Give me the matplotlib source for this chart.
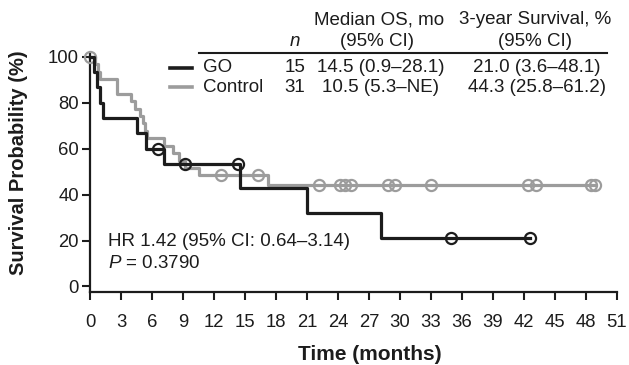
import matplotlib
matplotlib.use('Agg')
import matplotlib.pyplot as plt
from matplotlib.lines import Line2D

plt.rcParams['font.family'] = ['Liberation Sans', 'DejaVu Sans']
plt.rcParams['mathtext.fontset'] = 'custom'
plt.rcParams['mathtext.it'] = 'Liberation Sans:italic'
plt.rcParams['mathtext.rm'] = 'Liberation Sans'

# ---- data ----
go_t = [0, 0.4, 0.7, 1.0, 1.3, 4.5, 5.4, 7.2, 14.5, 21.0, 28.2]
go_s = [100, 93.3, 86.7, 80.0, 73.3, 66.7, 60.0, 53.3, 42.7, 32.0, 21.3]
go_end = 42.6
go_cens_t = [6.6, 9.2, 14.3, 34.9, 42.6]
go_cens_s = [60.0, 53.3, 53.3, 21.3, 21.3]

ctrl_t = [0, 0.5, 0.75, 1.0, 2.6, 4.0, 4.35, 4.8, 5.1, 5.3, 5.5, 7.2, 8.0, 8.6, 9.2, 10.5, 17.2]
ctrl_s = [100, 96.8, 93.5, 90.3, 83.9, 80.6, 77.4, 74.2, 71.0, 67.7, 64.5, 61.3, 58.1, 54.8, 51.6, 48.4, 44.3]
ctrl_end = 48.9
ctrl_cens_t = [0, 12.7, 16.3, 22.2, 24.2, 24.7, 25.3, 28.8, 29.5, 33.0, 42.4, 43.2, 48.5, 48.9]
ctrl_cens_s = [100, 48.4, 48.4, 44.3, 44.3, 44.3, 44.3, 44.3, 44.3, 44.3, 44.3, 44.3, 44.3, 44.3]

groups = ['GO', 'Control']
n_vals = ['15', '31']
median_os = ['14.5 (0.9\u201328.1)', '10.5 (5.3\u2013NE)']
surv3 = ['21.0 (3.6\u201348.1)', '44.3 (25.8\u201361.2)']
hr_text = 'HR 1.42 (95% CI: 0.64\u20133.14)'
p_text = '$P$ = 0.3790'

x_ticks = list(range(0, 52, 3))
y_ticks = [0, 20, 40, 60, 80, 100]

BLACK = '#1c1c1c'
GRAY = '#9c9c9c'
FS = 13.5

W, H = 629, 365
fig = plt.figure(figsize=(W / 100, H / 100), dpi=100)
ax = fig.add_axes([90 / W, 73 / H, 527 / W, (292 - 54) / H])

ax.step(ctrl_t + [ctrl_end], ctrl_s + [ctrl_s[-1]], where='post', color=GRAY, lw=2.3, zorder=2, clip_on=False)
ax.plot(ctrl_cens_t, ctrl_cens_s, 'o', ms=8, mfc='none', mec=GRAY, mew=1.6, zorder=3, clip_on=False)
ax.step(go_t + [go_end], go_s + [go_s[-1]], where='post', color=BLACK, lw=2.3, zorder=4, clip_on=False)
ax.plot(go_cens_t, go_cens_s, 'o', ms=8, mfc='none', mec=BLACK, mew=1.6, zorder=5, clip_on=False)

ax.set_xlim(0, 51)
ax.set_ylim(-2.4, 101.2)
ax.set_xticks(x_ticks)
ax.set_yticks(y_ticks)
for s in ['top', 'right']:
    ax.spines[s].set_visible(False)
for s in ['left', 'bottom']:
    ax.spines[s].set_linewidth(1.6)
    ax.spines[s].set_color(BLACK)
ax.tick_params(axis='both', direction='out', length=6, width=1.5, labelsize=13.3, colors=BLACK)
ax.tick_params(axis='x', pad=10)
ax.tick_params(axis='y', pad=2)

def fx(px):
    return px / W

def fy(py):
    return 1 - py / H

fig.text(fx(19), fy(163), 'Survival Probability (%)', rotation=90, ha='center', va='center',
         fontsize=14.5, fontweight='bold', color=BLACK)
fig.text(fx(370), fy(354), 'Time (months)', ha='center', va='center',
         fontsize=15, fontweight='bold', color=BLACK)

fig.text(fx(108), fy(241), hr_text, ha='left', va='center', fontsize=FS, color=BLACK)
fig.text(fx(108), fy(264), p_text, ha='left', va='center', fontsize=FS, color=BLACK)

# table header
fig.text(fx(379), fy(20), 'Median OS, mo', ha='center', va='center', fontsize=FS, color=BLACK)
fig.text(fx(535), fy(20), '3-year Survival, %', ha='center', va='center', fontsize=FS, color=BLACK)
fig.text(fx(295), fy(41), '$n$', ha='center', va='center', fontsize=FS, color=BLACK)
fig.text(fx(377), fy(41), '(95% CI)', ha='center', va='center', fontsize=FS, color=BLACK)
fig.text(fx(535), fy(41), '(95% CI)', ha='center', va='center', fontsize=FS, color=BLACK)
fig.add_artist(Line2D([fx(199), fx(607)], [fy(53), fy(53)], color=BLACK, lw=1.5))

rows_y = [68, 87]
colors = [BLACK, GRAY]
for i in range(2):
    y = rows_y[i]
    fig.add_artist(Line2D([fx(170), fx(192)], [fy(y), fy(y)], color=colors[i], lw=2.6))
    fig.text(fx(203), fy(y), groups[i], ha='left', va='center', fontsize=FS, color=BLACK)
    fig.text(fx(305), fy(y), n_vals[i], ha='right', va='center', fontsize=FS, color=BLACK)
    fig.text(fx(381), fy(y), median_os[i], ha='center', va='center', fontsize=FS, color=BLACK)
    fig.text(fx(537), fy(y), surv3[i], ha='center', va='center', fontsize=FS, color=BLACK)

fig.savefig('out.png', dpi=100)
